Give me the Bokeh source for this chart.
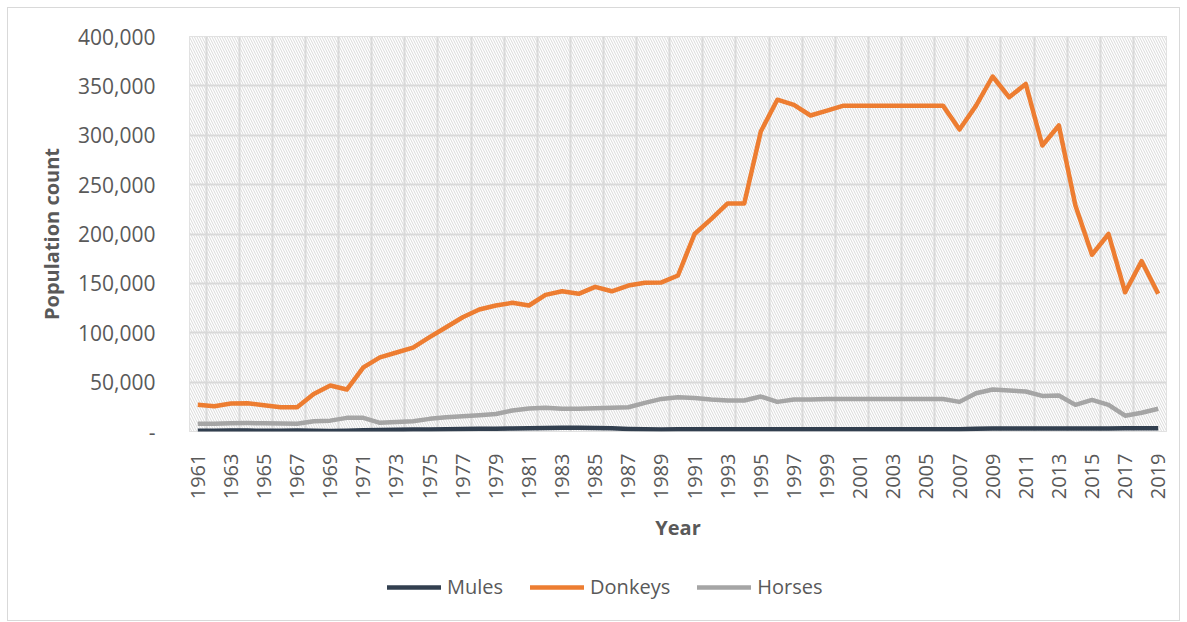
import math
from bokeh.plotting import figure
from bokeh.layouts import column
from bokeh.models import (FixedTicker, NumeralTickFormatter, BoxAnnotation, Legend,
                          LegendItem, Grid, Range1d)
from bokeh.embed import file_html
from bokeh.resources import INLINE

years = list(range(1961, 2020))

donkeys = [27000, 25600, 28400, 28700, 26500, 24600, 24600, 38000, 46600, 42500,
           65000, 75000, 80000, 85000, 95500, 105600, 115700, 123500, 127600, 130300,
           127600, 138400, 142000, 139400, 146500, 142000, 147800, 150600, 151000, 158000,
           200000, 215000, 231000, 231000, 303800, 336000, 330800, 320000, 325000, 330000,
           330000, 330000, 330000, 330000, 330000, 330000, 305800, 330000, 359500, 338500,
           352000, 289600, 309900, 228900, 179000, 200000, 141000, 172500, 139400]

horses = [7800, 7800, 8400, 8500, 8300, 8200, 7800, 10400, 11000, 13800,
          13800, 8800, 9500, 10400, 12800, 14500, 15500, 16500, 17700, 21300,
          23300, 24000, 23000, 23000, 23600, 24000, 24600, 29000, 33000, 34700,
          34000, 32400, 31400, 31400, 35400, 30000, 32400, 32400, 33000, 33000,
          33000, 33000, 33000, 33000, 33000, 33000, 30000, 38800, 42500, 41500,
          40500, 36000, 36500, 27000, 32000, 27000, 16000, 19000, 23000]

mules = [800, 800, 900, 900, 800, 800, 900, 700, 500, 800,
         1200, 1500, 1700, 1900, 2100, 2300, 2500, 2700, 2900, 3100,
         3300, 3500, 3800, 3900, 3600, 3200, 2600, 2200, 2100, 2200,
         2200, 2200, 2200, 2200, 2200, 2200, 2200, 2200, 2200, 2200,
         2200, 2200, 2200, 2200, 2200, 2200, 2200, 2800, 3000, 3000,
         3000, 3000, 3000, 3000, 3000, 3100, 3200, 3200, 3200]

series_names = ["Mules", "Donkeys", "Horses"]
series_colors = ["#323f4f", "#ed7d31", "#a5a5a5"]

y_ticks = [0, 50000, 100000, 150000, 200000, 250000, 300000, 350000, 400000]
x_tick_years = years[::2]

FONT = "Open Sans"
TXT = "#595959"
GRID = "#d9d9d9"

p = figure(width=1171, height=555, output_backend="svg", toolbar_location=None,
           x_range=(years[0] - 0.5, years[-1] + 0.5), y_range=(0, 400000),
           min_border_left=181, min_border_right=13, min_border_top=28,
           min_border_bottom=132)
p.outline_line_color = GRID
p.background_fill_color = "white"

p.add_layout(BoxAnnotation(fill_color="white", fill_alpha=1.0, hatch_pattern="\\",
                           hatch_color=GRID, hatch_scale=5, hatch_weight=1,
                           line_color=None, level="image"))

# grids
p.xgrid.visible = False
p.ygrid.ticker = FixedTicker(ticks=y_ticks)
p.ygrid.grid_line_color = GRID
p.ygrid.grid_line_width = 2
vgrid = Grid(dimension=0, ticker=FixedTicker(ticks=[y + 0.5 for y in years[::2]]),
             grid_line_color=GRID, grid_line_width=2)
p.add_layout(vgrid)

# axes
p.yaxis.ticker = FixedTicker(ticks=y_ticks)
p.yaxis.formatter = NumeralTickFormatter(format="0,0")
p.yaxis.major_label_overrides = {0: "-"}
p.xaxis.ticker = FixedTicker(ticks=x_tick_years)
p.xaxis.major_label_orientation = math.pi / 2
for ax in (p.xaxis[0], p.yaxis[0]):
    ax.axis_line_color = None
    ax.major_tick_line_color = None
    ax.minor_tick_line_color = None
    ax.major_label_text_font = FONT
    ax.major_label_text_color = TXT
    ax.axis_label_text_font = FONT
    ax.axis_label_text_font_style = "bold"
    ax.axis_label_text_color = TXT
    ax.axis_label_text_font_size = "20px"
p.yaxis.major_label_text_font_size = "21px"
p.xaxis.major_label_text_font_size = "20px"
p.yaxis.major_label_standoff = 28
p.xaxis.major_label_standoff = 16
p.yaxis.axis_label = "Population count"
p.xaxis.axis_label = "Year"
p.yaxis.axis_label_standoff = 10
p.xaxis.axis_label_standoff = 12

series_vals = [mules, donkeys, horses]
for vals, col in zip(series_vals, series_colors):
    p.line(years, vals, line_color=col, line_width=4.5, line_join="round")

# legend strip below the chart (its lines lie outside its own view)
q = figure(width=1171, height=57, output_backend="svg", toolbar_location=None,
           min_border=0, x_range=Range1d(0, 1), y_range=Range1d(0, 1))
q.axis.visible = False
q.grid.visible = False
q.outline_line_color = None
items = []
for name, vals, col in zip(series_names, series_vals, series_colors):
    r = q.line(years, vals, line_color=col, line_width=4.5, line_cap="round")
    items.append(LegendItem(label=name, renderers=[r]))
legend = Legend(items=items, orientation="horizontal", location=(198, 20),
                label_text_font=FONT, label_text_font_size="20px",
                label_text_color=TXT, glyph_width=54, glyph_height=20,
                spacing=27, label_standoff=6, padding=0, margin=0,
                border_line_color=None, background_fill_alpha=0)
q.add_layout(legend, "center")

layout = column(p, q, spacing=0,
                styles={"margin": "7px 0 0 7px", "border": "1px solid #d9d9d9"})

open("out.html", "w").write(file_html(layout, INLINE))
